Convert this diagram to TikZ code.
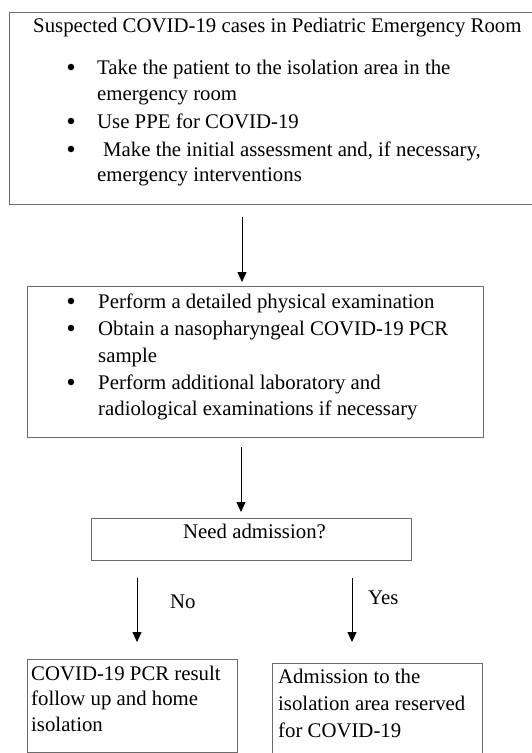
\documentclass[tikz,border=0pt]{standalone}
\usepackage{fontspec}
\setmainfont{Liberation Serif}
\usetikzlibrary{arrows.meta}
\definecolor{boxline}{gray}{0.42}
\begin{document}
\begin{tikzpicture}[x=1pt,y=-1pt,
  box/.style={draw=boxline,line width=0.9pt,rectangle,inner sep=0pt,anchor=north west},
  ln/.style={anchor=base west,inner sep=0pt,font=\fontsize{20.8}{26}\selectfont,text=black},
  bul/.style={circle,fill=black,inner sep=0pt,minimum size=6.5pt},
  arr/.style={draw=black,line width=0.8pt,-{Triangle[width=9pt,length=10pt]}}]
\clip (0,0) rectangle (532,753);
% boxes
\node[box,minimum width=528pt,minimum height=192pt] (b1) at (9,12) {};
\node[box,minimum width=456pt,minimum height=151pt] (b2) at (27,286) {};
\node[box,minimum width=320pt,minimum height=42pt] (b3) at (91,518) {};
\node[box,minimum width=210pt,minimum height=93pt] (bno) at (27,659) {};
\node[box,minimum width=210pt,minimum height=100pt] (byes) at (272,663) {};
% box 1 text
\node[ln] (t0) at (33,32) {Suspected COVID-19 cases in Pediatric Emergency Room};
\node[bul] (u1) at (71,67) {};
\node[ln] (t1) at (97,74) {Take the patient to the isolation area in the};
\node[ln] (t2) at (97,100) {emergency room};
\node[bul] (u2) at (71,121) {};
\node[ln] (t3) at (97,128) {Use PPE for COVID-19};
\node[bul] (u3) at (71,149) {};
\node[ln] (t4) at (103,156) {Make the initial assessment and, if necessary,};
\node[ln] (t5) at (97,181) {emergency interventions};
% box 2 text
\node[bul] (v1) at (71,301) {};
\node[ln] (s1) at (98,308) {Perform a detailed physical examination};
\node[bul] (v2) at (71,328) {};
\node[ln] (s2) at (98,335) {Obtain a nasopharyngeal COVID-19 PCR};
\node[ln] (s3) at (98,362) {sample};
\node[bul] (v3) at (71,382) {};
\node[ln] (s4) at (98,389) {Perform additional laboratory and};
\node[ln] (s5) at (98,415) {radiological examinations if necessary};
% box 3 text
\node[ln] (q) at (183,538) {Need admission?};
% labels
\node[ln] (lno) at (170,608) {No};
\node[ln] (lyes) at (368,604) {Yes};
% bottom boxes text
\node[ln] (n1) at (31,680) {COVID-19 PCR result};
\node[ln] (n2) at (31,705) {follow up and home};
\node[ln] (n3) at (31,731) {isolation};
\node[ln] (y1) at (278,683) {Admission to the};
\node[ln] (y2) at (278,710) {isolation area reserved};
\node[ln] (y3) at (278,737) {for COVID-19};
% arrow columns
\coordinate (c1) at (242,0);
\coordinate (c2) at (241,0);
\coordinate (cn) at (137,0);
\coordinate (cy) at (352,0);
\draw[arr] ([yshift=-12pt]b1.south -| c1) -- ([yshift=4pt]b2.north -| c1);
\draw[arr] ([yshift=-9pt]b2.south -| c2) -- ([yshift=6pt]b3.north -| c2);
\draw[arr] ([yshift=-17pt]b3.south -| cn) -- ([yshift=17pt]bno.north -| cn);
\draw[arr] ([yshift=-17pt]b3.south -| cy) -- ([yshift=21pt]byes.north -| cy);
\end{tikzpicture}
\end{document}
